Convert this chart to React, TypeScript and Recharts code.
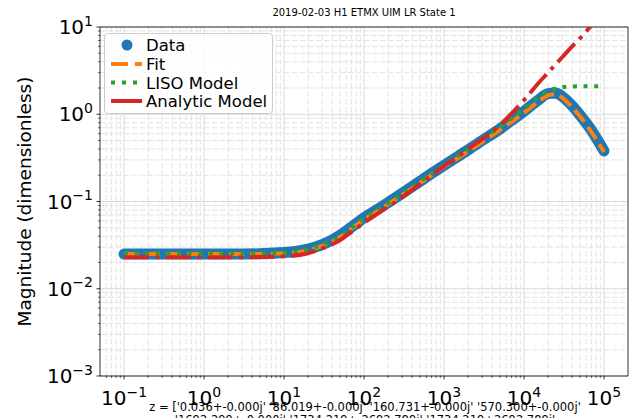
import React from "react";
import {
  LineChart,
  Line,
  XAxis,
  YAxis,
  CartesianGrid,
  ReferenceArea,
  Legend,
} from "recharts";

// frequency points (Hz)
const freqs = [
  0.1, 0.3, 1, 3, 10, 20, 30, 50, 70, 100, 150, 200, 300, 500, 700, 1000, 1500,
  2000, 3000, 5000, 7000, 10000, 15000, 20000, 25000, 30000, 40000, 50000,
  70000, 100000,
];
const dataMag = [
  0.025, 0.025, 0.025, 0.025, 0.026, 0.0285, 0.032, 0.041, 0.051, 0.065, 0.082,
  0.097, 0.124, 0.17, 0.21, 0.26, 0.33, 0.39, 0.5, 0.68, 0.85, 1.08, 1.45, 1.72,
  1.75, 1.6, 1.25, 0.98, 0.65, 0.38,
];
const fitMag = [
  0.025, 0.025, 0.025, 0.025, 0.0255, 0.0275, 0.031, 0.039, 0.049, 0.062,
  0.078, 0.093, 0.119, 0.163, 0.2, 0.25, 0.315, 0.375, 0.48, 0.66, 0.82, 1.04,
  1.38, 1.65, 1.7, 1.55, 1.2, 0.95, 0.62, 0.37,
];
const lisoMag = [
  0.0255, 0.0255, 0.0255, 0.0255, 0.026, 0.0285, 0.032, 0.04, 0.05, 0.064,
  0.081, 0.096, 0.123, 0.17, 0.21, 0.262, 0.335, 0.4, 0.52, 0.72, 0.9, 1.15,
  1.55, 1.85, 1.98, 2.04, 2.08, 2.1, 2.1, 2.1,
];
const analyticMag = [
  0.023, 0.023, 0.023, 0.023, 0.0235, 0.0255, 0.029, 0.036, 0.045, 0.057,
  0.073, 0.087, 0.112, 0.158, 0.2, 0.255, 0.33, 0.4, 0.52, 0.75, 1.02, 1.45,
  2.25, 3.0, 3.75, 4.5, 6.0, 7.4, 10.5, 15,
];

const xMajorTicks = [0.1, 1, 10, 100, 1000, 10000, 100000];
const xMajorExps = ["\u22121", "0", "1", "2", "3", "4", "5"];
const yMajorTicks = [0.001, 0.01, 0.1, 1, 10];
const yMajorExps = ["\u22123", "\u22122", "\u22121", "0", "1"];

const X_MIN = Math.pow(10, -1.3);
const X_MAX = Math.pow(10, 5.3);
const Y_MIN = 0.001;
const Y_MAX = 10;

const minorTicks = (lo: number, hi: number, e0: number, e1: number) => {
  const out: number[] = [];
  for (let e = e0; e <= e1; e++) {
    for (let m = 2; m <= 9; m++) {
      const v = m * Math.pow(10, e);
      if (v >= lo && v <= hi) out.push(v);
    }
  }
  return out;
};
const xMinorTicks = minorTicks(X_MIN, X_MAX, -2, 5);
const yMinorTicks = minorTicks(Y_MIN, Y_MAX, -3, 0);

const rows = freqs.map((f, i) => ({
  f,
  data: dataMag[i],
  fit: fitMag[i],
  liso: lisoMag[i],
  analytic: analyticMag[i],
}));

const FONT = "DejaVu Sans, sans-serif";

const XTick = (props: any) => {
  const { x, y, payload } = props;
  const idx = xMajorTicks.indexOf(payload.value);
  const major = idx >= 0;
  return (
    <g>
      <line x1={x} x2={x} y1={y} y2={y + (major ? 3.5 : 2)} stroke="#000" strokeWidth={major ? 0.8 : 0.6} />
      {major && (
        <text x={x} y={y + 29} textAnchor="middle" fontFamily={FONT} fontSize={20} fill="#000">
          <tspan>10</tspan>
          <tspan dy={-8.5} fontSize={14}>{xMajorExps[idx]}</tspan>
        </text>
      )}
    </g>
  );
};

const YTick = (props: any) => {
  const { x, y, payload } = props;
  const idx = yMajorTicks.indexOf(payload.value);
  const major = idx >= 0;
  return (
    <g>
      <line x1={x - (major ? 3.5 : 2)} x2={x} y1={y} y2={y} stroke="#000" strokeWidth={major ? 0.8 : 0.6} />
      {major && (
        <text x={x - 7} y={y + 7} textAnchor="end" fontFamily={FONT} fontSize={20} fill="#000">
          <tspan>10</tspan>
          <tspan dy={-8.5} fontSize={14}>{yMajorExps[idx]}</tspan>
        </text>
      )}
    </g>
  );
};

const renderLegend = () => (
  <svg width={170} height={82} style={{ display: "block" }}>
    <rect x={0.5} y={0.5} width={168} height={80} rx={3} fill="#fff" fillOpacity={0.8} stroke="#cccccc" />
    <circle cx={23} cy={12} r={5.5} fill="#1f77b4" />
    <text x={42} y={18} fontFamily={FONT} fontSize={16.5}>Data</text>
    <line x1={7} x2={38} y1={31} y2={31} stroke="#ff7f0e" strokeWidth={4} strokeDasharray="17 7" />
    <text x={42} y={37} fontFamily={FONT} fontSize={16.5}>Fit</text>
    <line x1={7} x2={38} y1={49.5} y2={49.5} stroke="#2ca02c" strokeWidth={4} strokeDasharray="4 7" />
    <text x={42} y={55.5} fontFamily={FONT} fontSize={16.5}>LISO Model</text>
    <line x1={7} x2={38} y1={68} y2={68} stroke="#d62728" strokeWidth={4} />
    <text x={42} y={74} fontFamily={FONT} fontSize={16.5}>Analytic Model</text>
  </svg>
);

export default function App() {
  return (
    <div style={{ position: "absolute", left: 0, top: 0, width: 634, height: 418, background: "#fff" }}>
      <LineChart
        width={634}
        height={418}
        data={rows}
        margin={{ top: 27, right: 6, bottom: 0, left: 0 }}
      >
        <CartesianGrid
          horizontalValues={yMinorTicks}
          verticalValues={xMinorTicks}
          stroke="#dcdcdc"
          strokeWidth={0.8}
          strokeDasharray="5.5 2.5"
        />
        <CartesianGrid
          horizontalValues={yMajorTicks}
          verticalValues={xMajorTicks}
          stroke="#cfcfcf"
          strokeWidth={0.8}
        />
        <XAxis
          dataKey="f"
          type="number"
          scale="log"
          domain={[X_MIN, X_MAX]}
          allowDataOverflow
          ticks={[...xMajorTicks, ...xMinorTicks].sort((a, b) => a - b)}
          interval={0}
          tick={<XTick />}
          tickLine={false}
          axisLine={false}
          tickSize={0}
          tickMargin={0}
          height={42}
        />
        <YAxis
          type="number"
          scale="log"
          domain={[Y_MIN, Y_MAX]}
          allowDataOverflow
          ticks={[...yMajorTicks, ...yMinorTicks].sort((a, b) => a - b)}
          interval={0}
          tick={<YTick />}
          tickLine={false}
          axisLine={false}
          tickSize={0}
          tickMargin={0}
          width={100}
          label={{
            value: "Magnitude (dimensionless)",
            angle: -90,
            position: "center",
            dx: -26,
            style: { fontFamily: FONT, fontSize: 18.5, fill: "#000" },
          }}
        />
        <Line dataKey="data" type="monotone" stroke="#1f77b4" strokeWidth={11} strokeLinecap="round" strokeLinejoin="round" dot={false} activeDot={false} isAnimationActive={false} />
        <Line dataKey="fit" type="monotone" stroke="#ff7f0e" strokeWidth={4} strokeDasharray="15 6" dot={false} activeDot={false} isAnimationActive={false} />
        <Line dataKey="liso" type="monotone" stroke="#2ca02c" strokeWidth={4} strokeDasharray="4 6.6" dot={false} activeDot={false} isAnimationActive={false} />
        <Line dataKey="analytic" type="monotone" stroke="#d62728" strokeWidth={4} strokeDasharray="25 6.4 4 6.4" dot={false} activeDot={false} isAnimationActive={false} />
        <ReferenceArea x1={X_MIN} x2={X_MAX} y1={Y_MIN} y2={Y_MAX} fill="none" stroke="#000" strokeWidth={0.8} ifOverflow="visible" />
        <Legend
          layout="vertical"
          align="center"
          verticalAlign="middle"
          content={renderLegend}
          wrapperStyle={{ left: 104, top: 33, width: 170, height: 82 }}
        />
      </LineChart>
      <svg width={634} height={418} style={{ position: "absolute", left: 0, top: 0, pointerEvents: "none" }}>
        <text x={364} y={16} textAnchor="middle" fontFamily={FONT} fontSize={10} fill="#000">
          2019-02-03 H1 ETMX UIM LR State 1
        </text>
        <text x={365} y={411} textAnchor="middle" fontFamily={FONT} fontSize={11.5} fill="#000">
          z = ['0.036+-0.000j' '86.019+-0.000j' '160.731+-0.000j' '570.300+-0.000j'
        </text>
        <text x={365} y={424} textAnchor="middle" fontFamily={FONT} fontSize={11.5} fill="#000">
          '1692.299+-0.000j' '1734.219+-2692.789j' '1734.219+2692.789j'
        </text>
      </svg>
    </div>
  );
}
